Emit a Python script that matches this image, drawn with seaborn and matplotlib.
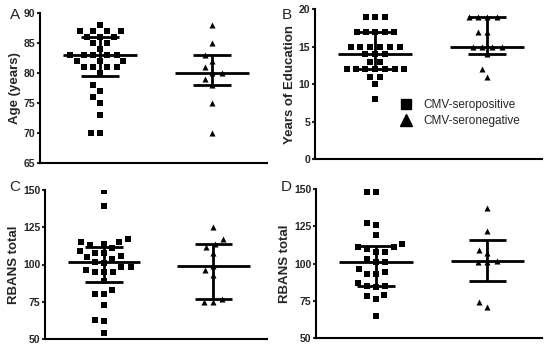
import numpy as np
import pandas as pd
import matplotlib
matplotlib.use('Agg')
import matplotlib.pyplot as plt
import seaborn as sns
from matplotlib.lines import Line2D

# values (seropositive = squares, seronegative = triangles)
age_pos = [88, 87, 87, 87, 87, 86, 86, 86, 85, 85, 84, 83, 83, 83, 83, 83,
           82, 82, 82, 81, 81, 81, 81, 80, 78, 77, 76, 75, 73, 70, 70]
age_neg = [88, 85, 83, 82, 81, 80, 80, 79, 78, 75, 70]
edu_pos = [19, 19, 19, 17, 17, 17, 17, 17, 15, 15, 15, 15, 15, 15, 14, 14, 14,
           13, 13, 12, 12, 12, 12, 12, 12, 12, 11, 11, 10, 8]
edu_neg = [19, 19, 19, 19, 17, 17, 15, 15, 15, 15, 14, 12, 11]
rbc_pos = [149, 139, 117, 115, 115, 114, 113, 111, 109, 108, 108, 106, 105, 104,
           102, 101, 98, 98, 96, 95, 95, 95, 89, 83, 80, 80, 73, 63, 62, 54]
rbc_neg = [125, 117, 114, 112, 108, 99, 96, 93, 77, 75, 75]
rbd_pos = [148, 148, 127, 126, 119, 113, 111, 111, 110, 108, 108, 103, 101, 101,
           96, 94, 93, 93, 87, 85, 85, 84, 79, 78, 76, 65]
rbd_neg = [137, 122, 109, 107, 102, 101, 101, 74, 71]

# median and interquartile range lines as drawn in the reference
med_lines = {'A': ([83, 80], [79.5, 78], [86, 83]),
             'B': ([14, 15], [12, 14], [17, 19]),
             'C': ([101.5, 99], [88, 77], [112, 114]),
             'D': ([101, 102], [85, 88], [112, 116])}

groups = ['CMV-seropositive', 'CMV-seronegative']
panels = [
    ('A', age_pos, age_neg, 'Age (years)', (65, 90), np.arange(65, 91, 5),
     [40, 13, 267, 163], (10, 15)),
    ('B', edu_pos, edu_neg, 'Years of Education', (0, 20), np.arange(0, 21, 5),
     [315, 9, 542, 159], (282, 15)),
    ('C', rbc_pos, rbc_neg, 'RBANS total', (50, 150), np.arange(50, 151, 25),
     [45, 190, 267, 339], (9, 187)),
    ('D', rbd_pos, rbd_neg, 'RBANS total', (50, 150), np.arange(50, 151, 25),
     [316, 189, 542, 338], (281, 187)),
]

sns.set_style('ticks')
plt.rcParams['font.family'] = ['Liberation Sans', 'DejaVu Sans']

W, H = 550, 350
fig = plt.figure(figsize=(5.5, 3.5), dpi=100)
axes = []

for letter, pos, neg, ylabel, ylim, yticks, box, lpos in panels:
    l, t, r, b = box
    ax = fig.add_axes([l / W, 1 - b / H, (r - l) / W, (b - t) / H])
    axes.append(ax)
    df = pd.DataFrame({'group': [groups[0]] * len(pos) + [groups[1]] * len(neg),
                       'value': pos + neg})
    # swarm laid out with a larger marker, shrunk after layout
    sns.swarmplot(data=df[df.group == groups[0]], x='group', y='value', order=groups,
                  marker='s', color='black', size=6.4, ax=ax)
    sns.swarmplot(data=df[df.group == groups[1]], x='group', y='value', order=groups,
                  marker='^', color='black', size=6.4, ax=ax)

    meds, q1s, q3s = med_lines[letter]
    for i in range(2):
        ax.hlines(meds[i], i - 0.33, i + 0.33, color='black', lw=2, zorder=5)
        ax.hlines([q1s[i], q3s[i]], i - 0.17, i + 0.17, color='black', lw=2, zorder=5)
        ax.vlines(i, q1s[i], q3s[i], color='black', lw=2, zorder=5)

    ax.set_xlim(-0.54, 1.49)
    ax.set_ylim(*ylim)
    ax.set_yticks(yticks)
    ax.set_xticks([])
    ax.set_xlabel('')
    ax.set_ylabel(ylabel, fontsize=9.5, fontweight='bold', labelpad=2)
    ax.tick_params(axis='y', labelsize=7.5, width=1.5, length=2.5, pad=1)
    for lab in ax.get_yticklabels():
        lab.set_fontweight('bold')
    for s in ['top', 'right']:
        ax.spines[s].set_visible(False)
    for s in ['left', 'bottom']:
        ax.spines[s].set_linewidth(1.5)
        ax.spines[s].set_color('black')
    fig.text(lpos[0] / W, 1 - lpos[1] / H, letter, fontsize=11,
             ha='left', va='center')

    if letter == 'B':
        handles = [Line2D([], [], ls='', marker='s', color='black', markersize=7),
                   Line2D([], [], ls='', marker='^', color='black', markersize=8)]
        ax.legend(handles, groups, loc='upper left', bbox_to_anchor=(0.33, 0.43),
                  frameon=False, fontsize=8.5, handletextpad=0.4,
                  labelspacing=0.3, borderaxespad=0)

# fix the swarm positions, then draw smaller markers
fig.canvas.draw()
for ax in axes:
    for c in ax.collections:
        if 'draw' in vars(c):
            del c.draw
            c.set_sizes([19])

fig.savefig('out.png', dpi=100)
